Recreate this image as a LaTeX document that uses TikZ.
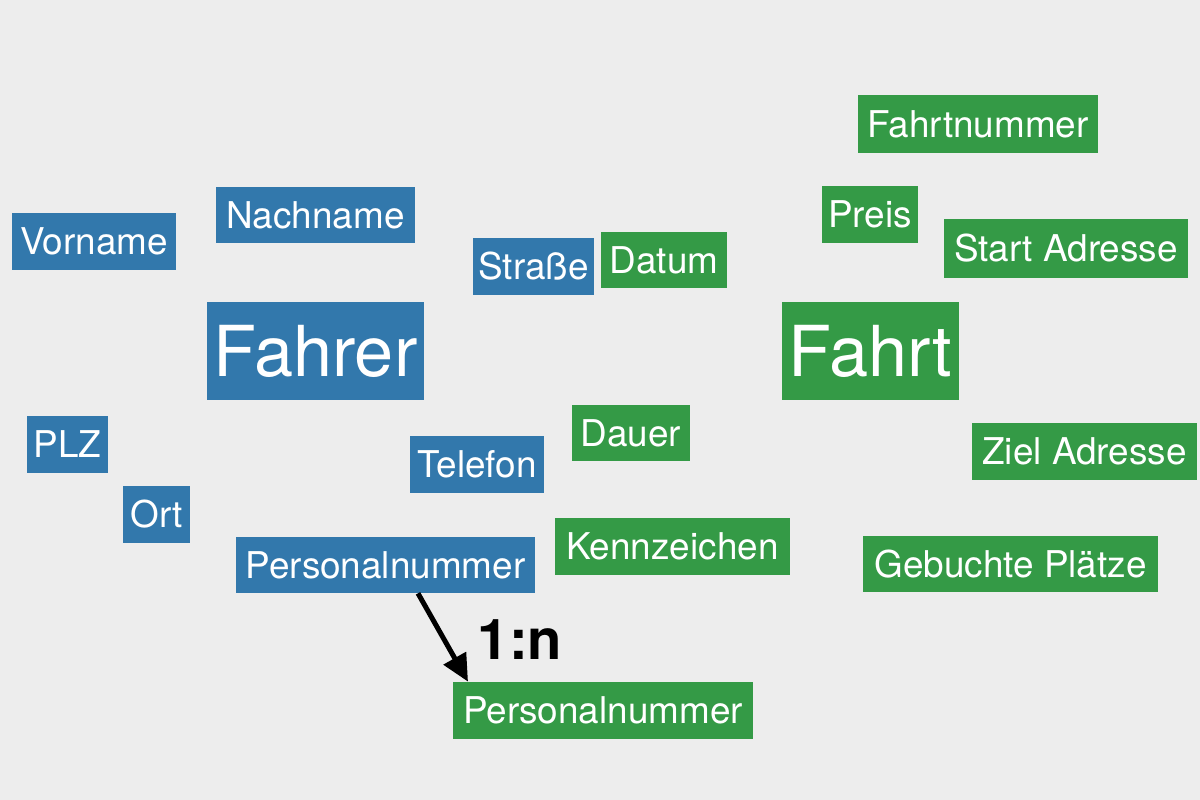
\documentclass[tikz,border=0pt]{standalone}
\usepackage{fontspec}
\setmainfont{TeX Gyre Heros}
\usetikzlibrary{calc,arrows.meta}
\definecolor{bgc}{HTML}{EDEDED}
\definecolor{bl}{HTML}{3278AC}
\definecolor{gr}{HTML}{349A46}
\tikzset{
  attr/.style={inner sep=0pt, text=white, font=\fontsize{21}{25}\selectfont},
  bluebox/.style={attr, fill=bl},
  greenbox/.style={attr, fill=gr},
  bigtext/.style={font=\fontsize{40}{46}\selectfont},
  relarrow/.style={line width=0.1cm, -{Triangle[length=0.54cm,width=0.5cm]}}
}
\begin{document}
\begin{tikzpicture}[x=0.02cm,y=-0.02cm]
\fill[bgc] (0,0) rectangle (1200,800);
\useasboundingbox (0,0) rectangle (1200,800);
% blue
\node[bluebox, minimum width=164*0.02cm, minimum height=57*0.02cm] (vorname) at (94,241.5) {Vorname};
\node[bluebox, minimum width=199*0.02cm, minimum height=56*0.02cm] (nachname) at (315.5,215) {Nachname};
\node[bluebox, minimum width=121*0.02cm, minimum height=57*0.02cm] (strasse) at (533.5,266.5) {Straße};
\node[bluebox, bigtext, minimum width=217*0.02cm, minimum height=98*0.02cm] (fahrer) at (315.5,351) {Fahrer};
\node[bluebox, minimum width=81*0.02cm, minimum height=57*0.02cm] (plz) at (67.5,444.5) {PLZ};
\node[bluebox, minimum width=67*0.02cm, minimum height=57*0.02cm] (ort) at (156.5,514.5) {Ort};
\node[bluebox, minimum width=134*0.02cm, minimum height=57*0.02cm] (telefon) at (477,464.5) {Telefon};
\node[bluebox, minimum width=299*0.02cm, minimum height=56*0.02cm] (pb) at (385.5,565) {Personalnummer};
% green
\node[greenbox, minimum width=126*0.02cm, minimum height=56*0.02cm] (datum) at (664,260) {Datum};
\node[greenbox, minimum width=118*0.02cm, minimum height=56*0.02cm] (dauer) at (631,433) {Dauer};
\node[greenbox, minimum width=235*0.02cm, minimum height=57*0.02cm] (kennz) at (672.5,546.5) {Kennzeichen};
\node[greenbox, minimum width=300*0.02cm, minimum height=57*0.02cm] (pg) at (603,710.5) {Personalnummer};
\node[greenbox, minimum width=240*0.02cm, minimum height=58*0.02cm] (fnr) at (978,124) {Fahrtnummer};
\node[greenbox, minimum width=96*0.02cm, minimum height=57*0.02cm] (preis) at (870,214.5) {Preis};
\node[greenbox, minimum width=244*0.02cm, minimum height=59*0.02cm] (start) at (1066,248.5) {Start Adresse};
\node[greenbox, bigtext, minimum width=177*0.02cm, minimum height=98*0.02cm] (fahrt) at (870.5,351) {Fahrt};
\node[greenbox, minimum width=225*0.02cm, minimum height=57*0.02cm] (ziel) at (1084.5,451.5) {Ziel Adresse};
\node[greenbox, minimum width=295*0.02cm, minimum height=56*0.02cm] (gebucht) at (1010.5,564) {Gebuchte Plätze};
% relation
\draw[relarrow] ($(pb.south)+(32.5,0)$) -- ($(pg.north)+(-135,0)$);
\node[inner sep=0pt, font=\fontsize{32}{36}\selectfont\bfseries] (lbl) at (520,640) {1:n};
\end{tikzpicture}
\end{document}
